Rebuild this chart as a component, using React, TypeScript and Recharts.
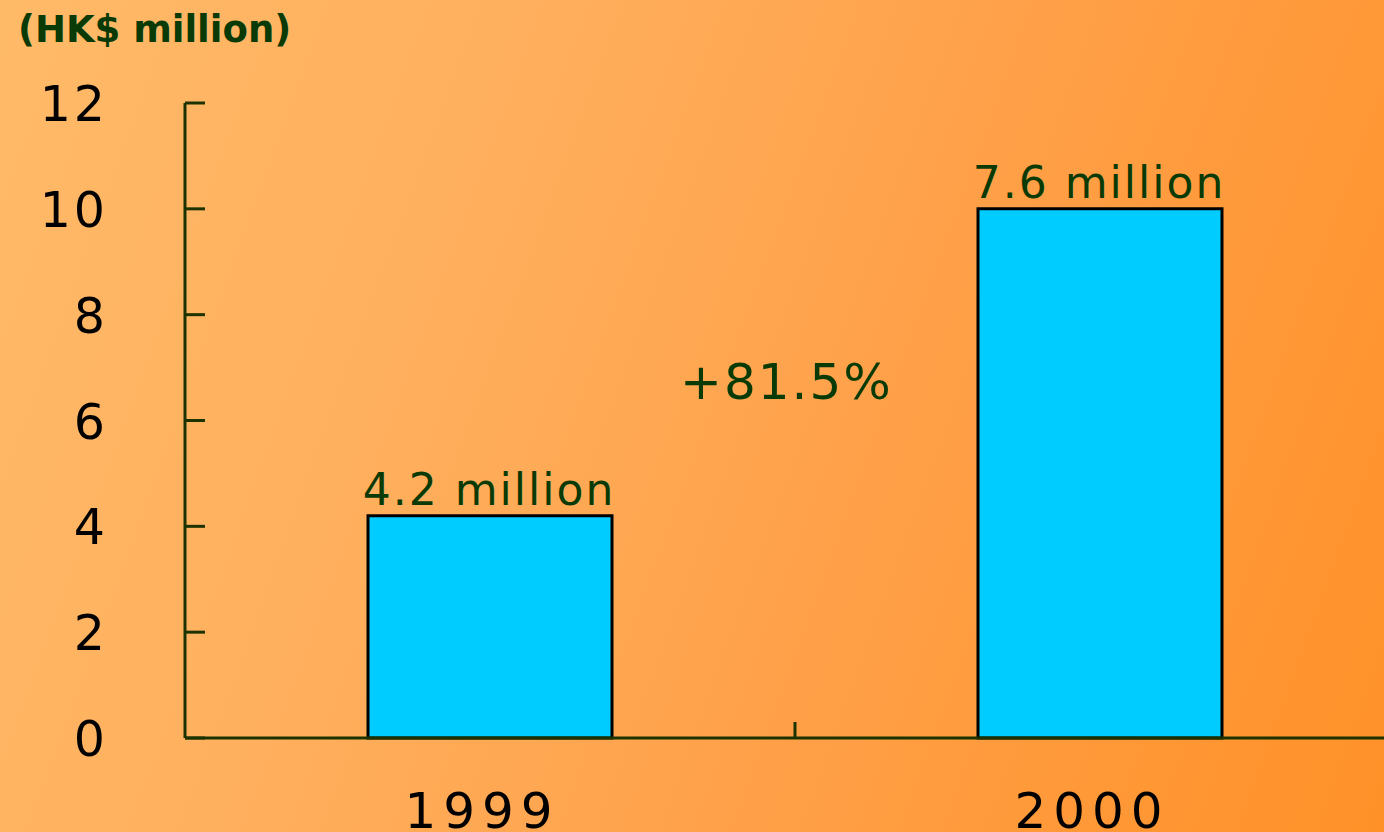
import React from 'react';
import { BarChart, Bar, XAxis, YAxis, LabelList } from 'recharts';

const years = ['1999', '2000'];
const barValues = [4.2, 10];
const valueLabels = ['4.2 million', '7.6 million'];
const yTicks = [0, 2, 4, 6, 8, 10, 12];
const unitLabel = '(HK$ million)';
const growthLabel = '+81.5%';

const data = years.map((y, i) => ({ year: y, value: barValues[i], label: valueLabels[i] }));

const AXIS = '#1c3300';
const TEXT_GREEN = '#0a3a05';
const FONT = '"DejaVu Sans", Verdana, sans-serif';

const YTick = (props: any) => {
  const { x, y, payload } = props;
  return (
    <g>
      <line x1={x} x2={x + 20} y1={y} y2={y} stroke={AXIS} strokeWidth={3} />
      <text x={x - 77} y={y + 18} textAnchor="end" fill="#000" fontSize={49} fontFamily={FONT} letterSpacing={3}>
        {payload.value}
      </text>
    </g>
  );
};

const XTick = (props: any) => {
  const { x, y, payload, index } = props;
  const off = payload.offset || 0;
  return (
    <g>
      {index === 0 && (
        <line x1={x + off} x2={x + off} y1={y - 16} y2={y} stroke={AXIS} strokeWidth={3} />
      )}
      <text x={x - 8} y={y + 90} textAnchor="middle" fill="#000" fontSize={50} fontFamily={FONT} letterSpacing={7}>
        {payload.value}
      </text>
    </g>
  );
};

const BarLabel = (props: any) => {
  const { x, y, width, value } = props;
  return (
    <text x={x + width / 2 - 1} y={y - 11} textAnchor="middle" fill={TEXT_GREEN} fontSize={44} fontFamily={FONT} letterSpacing={2}>
      {value}
    </text>
  );
};

export default function App() {
  return (
    <div
      style={{
        position: 'fixed',
        left: 0,
        top: 0,
        width: 1384,
        height: 832,
        overflow: 'hidden',
        background: 'linear-gradient(110deg, #FFBA68 0%, #FFB05E 30%, #FFA14A 60%, #FF9128 100%)',
      }}
    >
      <BarChart
        width={1405}
        height={832}
        data={data}
        margin={{ top: 103, right: 0, left: 0, bottom: 0 }}
        barCategoryGap="30%"
      >
        <XAxis
          dataKey="year"
          height={94}
          axisLine={{ stroke: AXIS, strokeWidth: 3 }}
          tickLine={false}
          tickSize={0}
          tickMargin={0}
          tick={<XTick />}
          interval={0}
        />
        <YAxis
          width={185}
          domain={[0, 12]}
          ticks={yTicks}
          interval={0}
          axisLine={{ stroke: AXIS, strokeWidth: 3 }}
          tickLine={false}
          tickSize={0}
          tickMargin={0}
          tick={<YTick />}
        />
        <Bar dataKey="value" fill="#00CCFF" stroke="#000" strokeWidth={3} isAnimationActive={false}>
          <LabelList dataKey="label" content={<BarLabel />} />
        </Bar>
      </BarChart>
      <svg width={1384} height={832} style={{ position: 'absolute', left: 0, top: 0, pointerEvents: 'none' }}>
        <text x={18} y={42} fill={TEXT_GREEN} fontSize={37} fontWeight="bold" fontFamily={FONT}>
          {unitLabel}
        </text>
        <text x={680} y={399} fill={TEXT_GREEN} fontSize={50} fontFamily={FONT} letterSpacing={2}>
          {growthLabel}
        </text>
      </svg>
    </div>
  );
}
